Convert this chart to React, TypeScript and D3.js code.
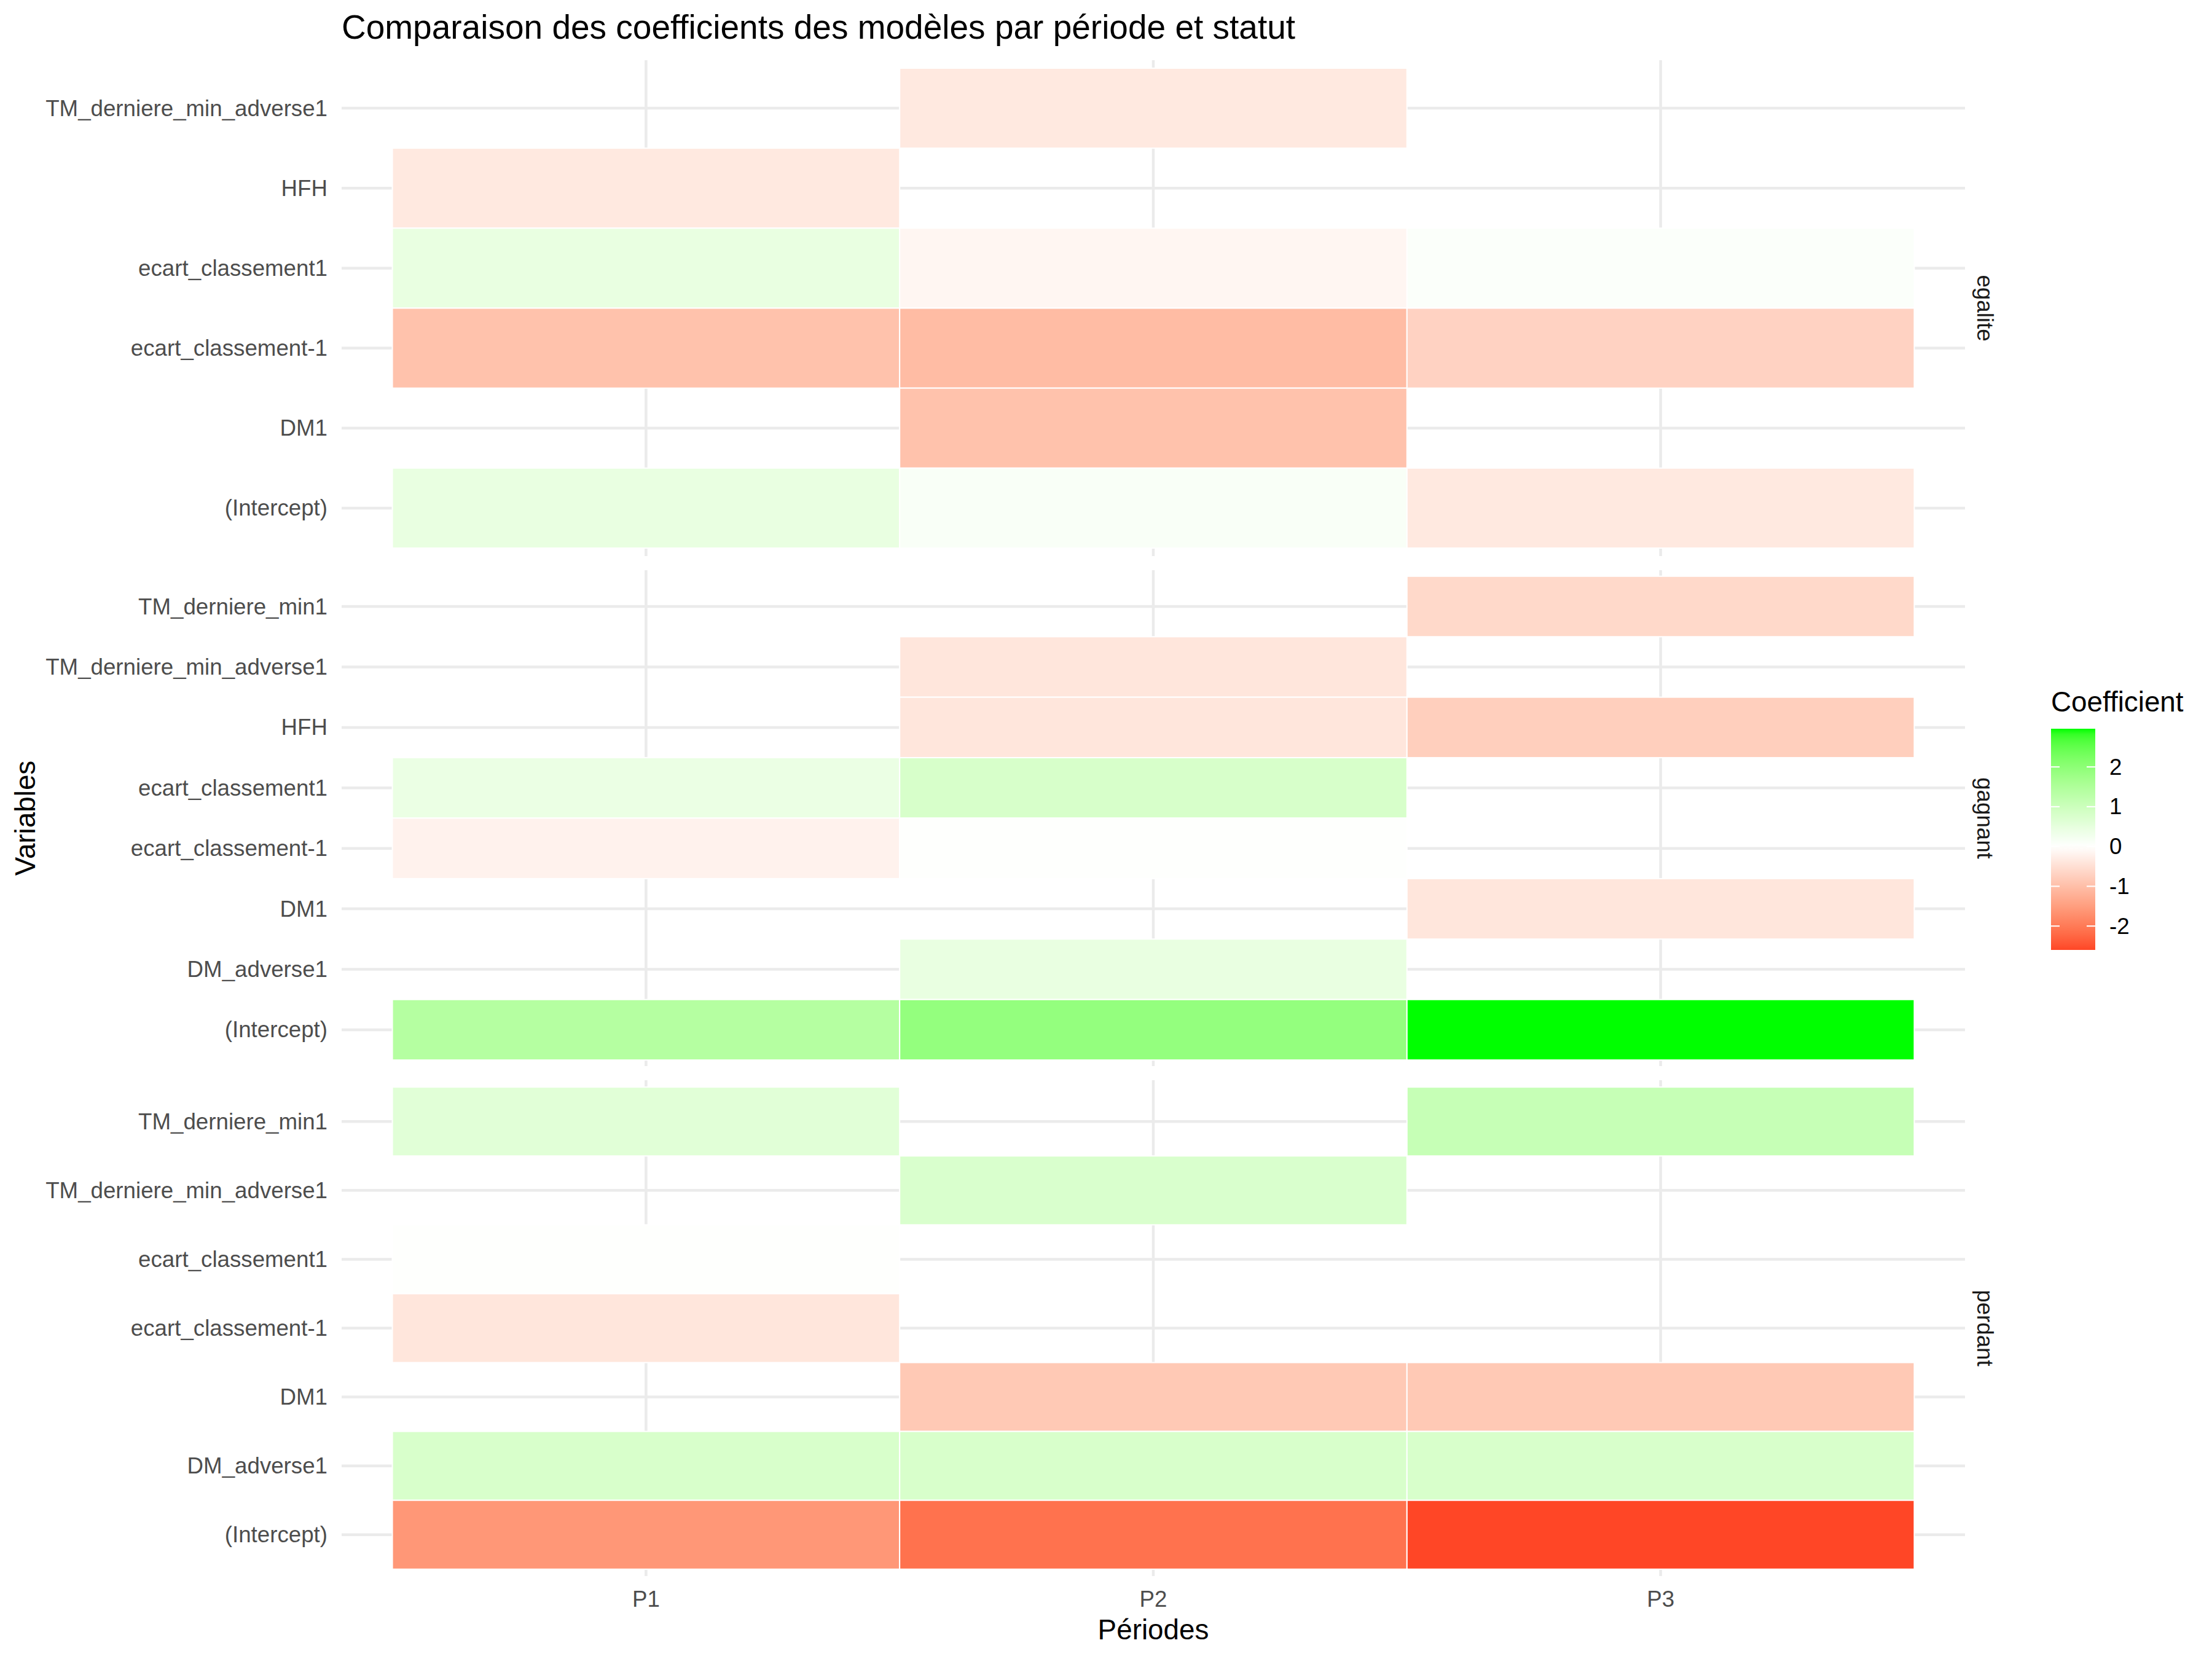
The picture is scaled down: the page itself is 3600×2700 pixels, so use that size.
import React from "react";
import * as d3 from "d3";

const periods = ["P1", "P2", "P3"];
const statuses = ["egalite", "gagnant", "perdant"];

// rows listed top to bottom within each facet
const egaliteVars = ["TM_derniere_min_adverse1", "HFH", "ecart_classement1", "ecart_classement-1", "DM1", "(Intercept)"];
const egaliteP1 = [null, -0.35, 0.45, -0.95, null, 0.45];
const egaliteP2 = [-0.35, null, -0.15, -1.05, -0.95, 0.12];
const egaliteP3 = [null, null, 0.08, -0.7, null, -0.35];

const gagnantVars = ["TM_derniere_min1", "TM_derniere_min_adverse1", "HFH", "ecart_classement1", "ecart_classement-1", "DM1", "DM_adverse1", "(Intercept)"];
const gagnantP1 = [null, null, null, 0.4, -0.2, null, null, 1.4];
const gagnantP2 = [null, -0.4, -0.4, 0.8, 0.03, null, 0.45, 1.9];
const gagnantP3 = [-0.6, null, -0.75, null, null, -0.4, null, 2.96];

const perdantVars = ["TM_derniere_min1", "TM_derniere_min_adverse1", "ecart_classement1", "ecart_classement-1", "DM1", "DM_adverse1", "(Intercept)"];
const perdantP1 = [0.6, null, 0.03, -0.4, null, 0.78, -1.6];
const perdantP2 = [null, 0.75, null, null, -0.85, 0.78, -2.1];
const perdantP3 = [1.1, null, null, null, -0.85, 0.78, -2.6];

const legendTicks = [2, 1, 0, -1, -2];

const facets = [
  { name: statuses[0], vars: egaliteVars, vals: [egaliteP1, egaliteP2, egaliteP3] },
  { name: statuses[1], vars: gagnantVars, vals: [gagnantP1, gagnantP2, gagnantP3] },
  { name: statuses[2], vars: perdantVars, vals: [perdantP1, perdantP2, perdantP3] },
];

const allVals: number[] = [];
facets.forEach((f) => f.vals.forEach((col) => col.forEach((v) => { if (v !== null) allVals.push(v as number); })));
const vMin = d3.min(allVals) as number;
const vMax = d3.max(allVals) as number;
const maxAbs = Math.max(Math.abs(vMin), Math.abs(vMax));
const toGreen = d3.interpolateLab("#FFFFFF", "#00FF00");
const toRed = d3.interpolateLab("#FFFFFF", "#FF0000");
const fillOf = (v: number) => (v >= 0 ? toGreen(v / maxAbs) : toRed(-v / maxAbs));

const W = 3600, Hh = 2700;
const panelLeft = 556, panelRight = 3198;
const panelTop = 98, panelH = 807, gap = 23;
const font = "'Liberation Sans', Arial, Helvetica, sans-serif";

export default function App() {
  const x = d3.scalePoint<string>().domain(periods).range([panelLeft, panelRight]).padding(0.6);
  const xStep = x.step();
  const lastBottom = panelTop + 3 * panelH + 2 * gap;

  const legTop = 1186, legBot = 1546, legX = 3338, legW = 72;
  const legScale = d3.scaleLinear().domain([vMin, vMax]).range([legBot, legTop]);
  const stops = d3.range(0, 41).map((i) => {
    const frac = i / 40; // 0 at top
    const v = vMax - frac * (vMax - vMin);
    return { off: `${frac * 100}%`, col: fillOf(v) };
  });

  return (
    <svg width={W} height={Hh} style={{ display: "block", background: "#fff", position: "absolute", left: 0, top: 0 }} fontFamily={font}>
      <defs>
        <linearGradient id="legGrad" x1="0" y1="0" x2="0" y2="1">
          {stops.map((s, i) => (
            <stop key={i} offset={s.off} stopColor={s.col} />
          ))}
        </linearGradient>
      </defs>
      <rect width={W} height={Hh} fill="#fff" />
      <text x={556} y={63} fontSize={55} fill="#000">Comparaison des coefficients des modèles par période et statut</text>

      {facets.map((f, fi) => {
        const top = panelTop + fi * (panelH + gap);
        const bottom = top + panelH;
        const y = d3.scalePoint<string>().domain(f.vars).range([top, bottom]).padding(0.6);
        const yStep = y.step();
        return (
          <g key={f.name}>
            {f.vars.map((v) => (
              <line key={"h" + v} x1={panelLeft} x2={panelRight} y1={y(v)} y2={y(v)} stroke="#EBEBEB" strokeWidth={4.5} />
            ))}
            {periods.map((p) => (
              <line key={"v" + p} x1={x(p)} x2={x(p)} y1={top} y2={bottom} stroke="#EBEBEB" strokeWidth={4.5} />
            ))}
            {f.vals.map((col, pi) =>
              col.map((val, ri) =>
                val === null ? null : (
                  <rect
                    key={pi + "-" + ri}
                    x={(x(periods[pi]) as number) - xStep / 2}
                    y={(y(f.vars[ri]) as number) - yStep / 2}
                    width={xStep}
                    height={yStep}
                    fill={fillOf(val as number)}
                    stroke="#fff"
                    strokeWidth={2}
                  />
                )
              )
            )}
            {f.vars.map((v) => (
              <text key={"t" + v} x={533} y={y(v)} fontSize={36.7} fill="#4D4D4D" textAnchor="end" dominantBaseline="central">{v}</text>
            ))}
            <text
              x={3230}
              y={(top + bottom) / 2}
              fontSize={36.7}
              fill="#1A1A1A"
              textAnchor="middle"
              dominantBaseline="central"
              transform={`rotate(90 3230 ${(top + bottom) / 2})`}
            >
              {f.name}
            </text>
          </g>
        );
      })}

      {periods.map((p) => (
        <text key={"xl" + p} x={x(p)} y={2602} fontSize={36.7} fill="#4D4D4D" textAnchor="middle" dominantBaseline="central">{p}</text>
      ))}
      <text x={(panelLeft + panelRight) / 2} y={2652} fontSize={45.8} fill="#000" textAnchor="middle" dominantBaseline="central">Périodes</text>
      <text x={41} y={(panelTop + lastBottom) / 2} fontSize={45.8} fill="#000" textAnchor="middle" dominantBaseline="central" transform={`rotate(-90 41 ${(panelTop + lastBottom) / 2})`}>Variables</text>

      <text x={legX} y={1158} fontSize={45.8} fill="#000">Coefficient</text>
      <rect x={legX} y={legTop} width={legW} height={legBot - legTop} fill="url(#legGrad)" />
      {legendTicks.map((t) => (
        <g key={"lt" + t}>
          <line x1={legX} x2={legX + 14} y1={legScale(t)} y2={legScale(t)} stroke="#fff" strokeWidth={2} />
          <line x1={legX + legW - 14} x2={legX + legW} y1={legScale(t)} y2={legScale(t)} stroke="#fff" strokeWidth={2} />
          <text x={3433} y={legScale(t)} fontSize={36.7} fill="#000" dominantBaseline="central">{t}</text>
        </g>
      ))}
    </svg>
  );
}
